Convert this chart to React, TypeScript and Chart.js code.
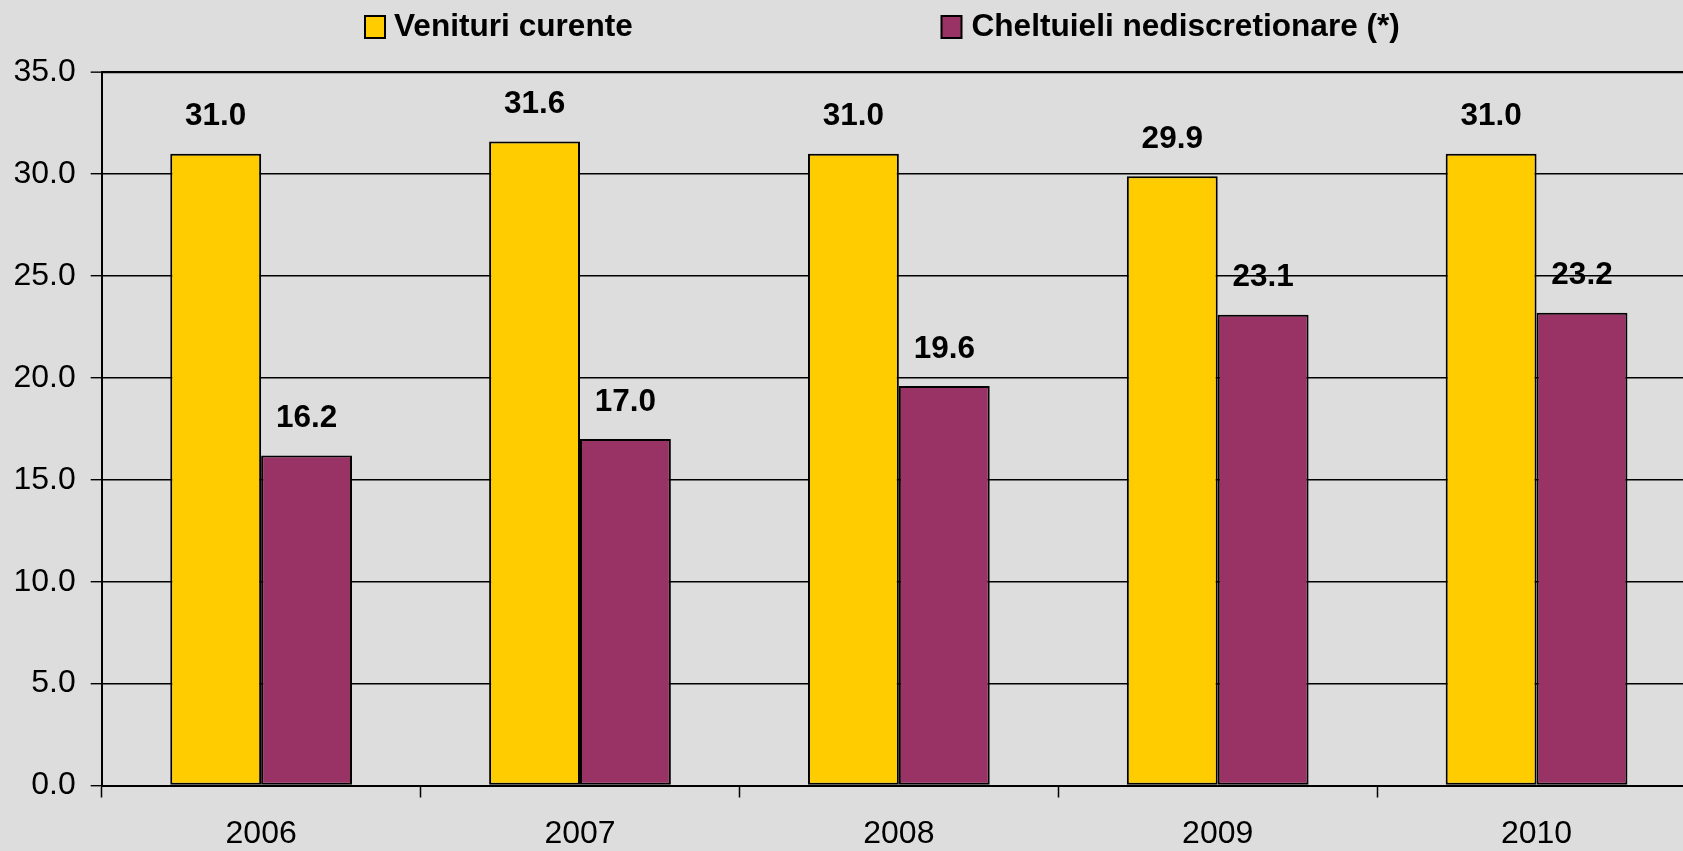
import React, { useEffect, useRef } from "react";
import { Chart, registerables } from "chart.js";

Chart.register(...registerables);

const categories = ["2006", "2007", "2008", "2009", "2010"];
const venituri = [31.0, 31.6, 31.0, 29.9, 31.0];
const cheltuieli = [16.2, 17.0, 19.6, 23.1, 23.2];
const seriesNames = ["Venituri curente", "Cheltuieli nediscretionare (*)"];
const seriesColors = ["#FFCC00", "#993366"];

const FONT = "'Liberation Sans', Arial, sans-serif";

export default function App() {
  const ref = useRef<HTMLCanvasElement | null>(null);

  useEffect(() => {
    document.body.style.margin = "0";
    document.body.style.overflow = "hidden";
    document.body.style.background = "#DDDDDD";
    const canvas = ref.current;
    if (!canvas) return;

    const bgPlugin = {
      id: "bg",
      beforeDraw(chart: any) {
        const c = chart.ctx;
        c.save();
        c.fillStyle = "#DDDDDD";
        c.fillRect(0, 0, chart.width, chart.height);
        c.restore();
      },
    };

    const legendPlugin = {
      id: "customLegend",
      afterDraw(chart: any) {
        const c = chart.ctx;
        const items = [
          { box: 365, text: 394 },
          { box: 941.5, text: 971.5 },
        ];
        c.save();
        items.forEach((it, i) => {
          c.fillStyle = seriesColors[i];
          c.fillRect(it.box, 16, 20, 22);
          c.lineWidth = 2;
          c.strokeStyle = "#000";
          c.strokeRect(it.box, 16, 20, 22);
          c.fillStyle = "#000";
          c.font = `bold 31.6px ${FONT}`;
          c.textBaseline = "middle";
          c.textAlign = "left";
          c.fillText(seriesNames[i], it.text, 27.5);
        });
        c.restore();
      },
    };

    const labelPlugin = {
      id: "valueLabels",
      afterDatasetsDraw(chart: any) {
        const c = chart.ctx;
        c.save();
        c.fillStyle = "#000";
        c.font = `bold 31.5px ${FONT}`;
        c.textAlign = "center";
        c.textBaseline = "middle";
        chart.data.datasets.forEach((ds: any, di: number) => {
          const meta = chart.getDatasetMeta(di);
          meta.data.forEach((bar: any, i: number) => {
            c.fillText(Number(ds.data[i]).toFixed(1), bar.x, bar.y - 37);
          });
        });
        c.restore();
      },
    };

    const chart = new Chart(canvas, {
      type: "bar",
      data: {
        labels: categories,
        datasets: [
          {
            label: seriesNames[0],
            data: venituri,
            backgroundColor: seriesColors[0],
            borderColor: "#000",
            borderWidth: 2,
            borderSkipped: false,
          },
          {
            label: seriesNames[1],
            data: cheltuieli,
            backgroundColor: seriesColors[1],
            borderColor: "#000",
            borderWidth: 2,
            borderSkipped: false,
          },
        ],
      },
      options: {
        responsive: false,
        animation: false,
        devicePixelRatio: 1,
        layout: { padding: { top: 72.3, left: 0, right: 0, bottom: 0 } },
        datasets: {
          bar: { categoryPercentage: 0.57, barPercentage: 1 },
        },
        plugins: {
          legend: { display: false },
          tooltip: { enabled: false },
        },
        scales: {
          x: {
            offset: true,
            grid: {
              display: true,
              drawOnChartArea: false,
              drawTicks: true,
              tickLength: 12,
              tickColor: "#000",
              tickWidth: 1.5,
              offset: true,
            },
            border: { display: true, color: "#000", width: 2 },
            ticks: {
              color: "#000",
              font: { family: FONT, size: 32 },
              padding: 17,
              maxRotation: 0,
            },
            afterFit(scale: any) {
              scale.height = 65.5;
            },
          },
          y: {
            min: 0,
            max: 35,
            grid: {
              color: "#000",
              lineWidth: (ctx: any) => (ctx.tick && ctx.tick.value === 35 ? 2.3 : 1.4),
              drawTicks: true,
              tickLength: 11,
              tickColor: "#000",
              tickWidth: 1.4,
            },
            border: { display: true, color: "#000", width: 2 },
            ticks: {
              stepSize: 5,
              color: "#000",
              font: { family: FONT, size: 32 },
              padding: 15,
              callback: (v: any) => Number(v).toFixed(1),
            },
            afterFit(scale: any) {
              scale.width = 101.7;
            },
          },
        },
      },
      plugins: [bgPlugin, labelPlugin, legendPlugin],
    });

    return () => chart.destroy();
  }, []);

  return (
    <div style={{ width: 1696, height: 851, background: "#DDDDDD" }}>
      <canvas ref={ref} width={1696} height={851} style={{ display: "block" }} />
    </div>
  );
}
